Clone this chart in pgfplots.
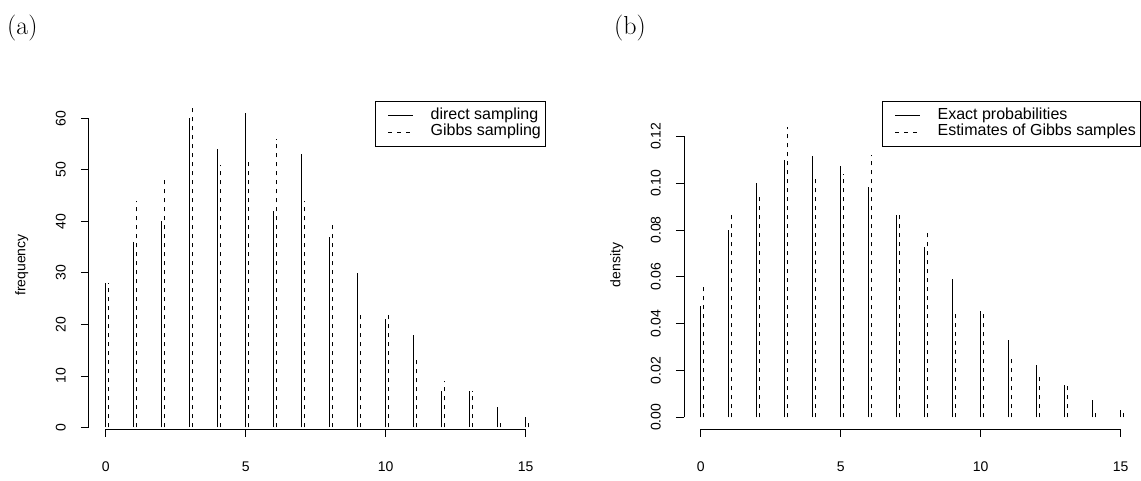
\documentclass[border=0pt]{standalone}
\usepackage{fontspec}
\usepackage{pgfplots}
\usepackage{pgfplotstable}
\pgfplotsset{compat=1.18}
\newfontfamily\arial{Liberation Sans}

% stick counts / probabilities for k = 0..15
\pgfplotstableread{
k  direct gibbs
0  28 28
1  36 44
2  40 48
3  60 62
4  54 51
5  61 52
6  42 56
7  53 44
8  37 40
9  30 22
10 21 22
11 18 13
12 7  9
13 7  7
14 4  1
15 2  1
}\freqtable
\pgfplotstableread{
k  exact  est
0  0.0475 0.056
1  0.0800 0.088
2  0.1001 0.096
3  0.1099 0.124
4  0.1116 0.102
5  0.1073 0.104
6  0.0984 0.112
7  0.0864 0.088
8  0.0729 0.080
9  0.0589 0.044
10 0.0454 0.044
11 0.0330 0.026
12 0.0223 0.018
13 0.0138 0.014
14 0.0074 0.002
15 0.0031 0.002
}\denstable

\pgfplotsset{
  rstyle/.style={
    scale only axis, width=456.4pt, height=328pt,
    anchor=south west,
    xmin=-0.6, xmax=15.7,
    axis x line*=bottom, axis y line*=left,
    axis line style={draw=none},
    tick align=outside, major tick length=8pt,
    tick style={black, line width=0.8pt},
    xtick={0,5,10,15},
    clip=false,
    /pgf/number format/assume math mode=true,
    ticklabel style={font=\arial\fontsize{14}{16}\selectfont},
    xticklabel style={anchor=north, inner sep=0pt},
    yticklabel style={rotate=90, anchor=south, inner sep=0pt},
    xticklabel shift=25pt,
    yticklabel shift=15pt,
    every axis y label/.style={at={(axis description cs:-0.147,0.5)}, rotate=90, anchor=center, font=\arial\fontsize{14}{16}\selectfont},
    legend cell align=left,
    legend style={at={(rel axis cs:1,1)}, anchor=north east, draw=black, line width=0.8pt,
      font=\arial\fontsize{16}{17}\selectfont,
      inner xsep=3pt, inner ysep=7pt, row sep=1.4pt,
      nodes={inner sep=1pt, text height=10pt, text depth=3pt},
      /tikz/every odd column/.append style={column sep=16pt}},
  },
  stickA/.style={black, line width=1pt, ycomb, no marks,
    legend image code/.code={\path (0pt,0pt); \draw[black, line width=1pt] (9pt,0pt) -- (34pt,0pt);}},
  stickB/.style={black, line width=1pt, ycomb, no marks, dash pattern=on 4.3pt off 4.7pt,
    legend image code/.code={\path (0pt,0pt); \draw[black, line width=1pt, dash pattern=on 4.3pt off 4.7pt] (9pt,0pt) -- (34pt,0pt);}},
}

\begin{document}
\begin{tikzpicture}
\path[use as bounding box] (0,0) rectangle (1141pt,481pt);

\node[anchor=base west, inner sep=0pt, font=\fontsize{26}{28}\selectfont] at (7pt,446.5pt) {(a)};
\node[anchor=base west, inner sep=0pt, font=\fontsize{26}{28}\selectfont] at (614pt,446.5pt) {(b)};

% (a) sample frequencies
\begin{axis}[rstyle, at={(88.9pt,52pt)},
  ymin=-0.3, ymax=63.35, ytick={0,10,...,60},
  ylabel={frequency}]
  \addplot[stickA] table[x=k, y=direct] {\freqtable};
  \addlegendentry{direct sampling}
  \addplot[stickB] table[x expr=\thisrow{k}+0.1, y=gibbs] {\freqtable};
  \addlegendentry{Gibbs sampling}
  \draw[black, line width=0.8pt] (axis cs:-0.6,0) -- (axis cs:-0.6,60);
  \draw[black, line width=0.8pt] (axis cs:0,-0.3) -- (axis cs:15,-0.3);
\end{axis}

% (b) densities
\begin{axis}[rstyle, at={(683.9pt,52pt)},
  ymin=-0.005, ymax=0.1351, ytick={0,0.02,...,0.121},
  yticklabel style={/pgf/number format/.cd, fixed, fixed zerofill, precision=2},
  ylabel={density}]
  \addplot[stickA] table[x=k, y=exact] {\denstable};
  \addlegendentry{Exact probabilities}
  \addplot[stickB] table[x expr=\thisrow{k}+0.1, y=est] {\denstable};
  \addlegendentry{Estimates of Gibbs samples}
  \draw[black, line width=0.8pt] (axis cs:-0.6,0) -- (axis cs:-0.6,0.12);
  \draw[black, line width=0.8pt] (axis cs:0,-0.005) -- (axis cs:15,-0.005);
\end{axis}
\end{tikzpicture}
\end{document}
